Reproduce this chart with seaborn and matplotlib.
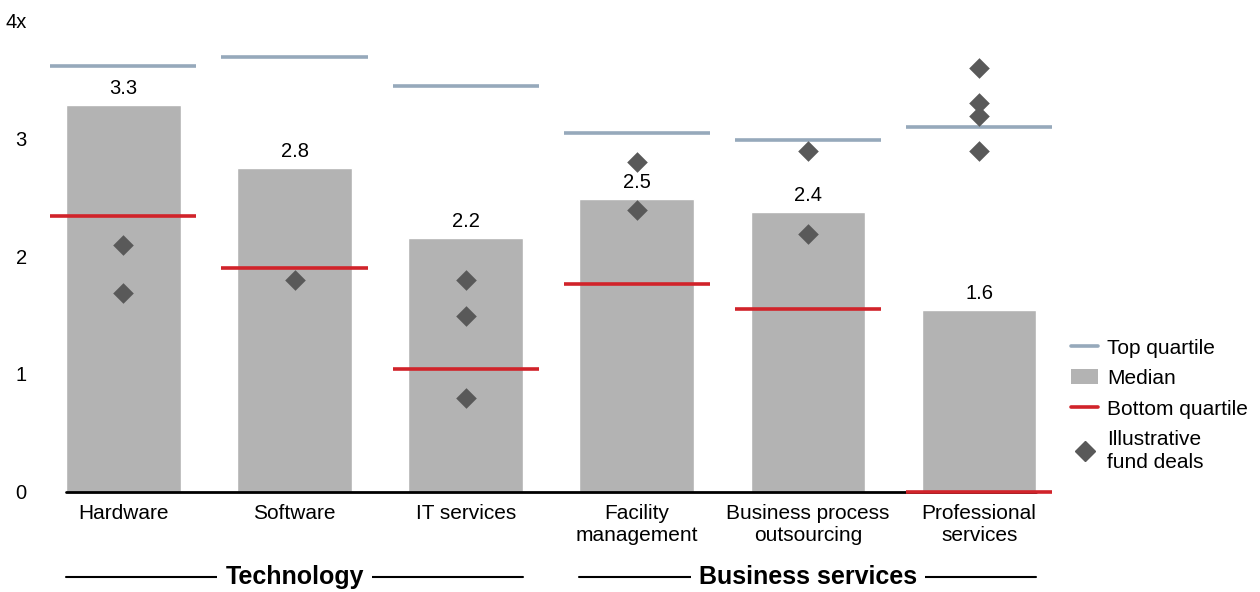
import matplotlib
matplotlib.use("Agg")
import matplotlib.pyplot as plt
import matplotlib.transforms as mtransforms
from matplotlib.lines import Line2D
from matplotlib.patches import Patch
import pandas as pd
import seaborn as sns

categories = ["Hardware", "Software", "IT services", "Facility\nmanagement",
              "Business process\noutsourcing", "Professional\nservices"]
median = [3.28, 2.75, 2.15, 2.48, 2.37, 1.54]
median_labels = ["3.3", "2.8", "2.2", "2.5", "2.4", "1.6"]
top_quartile = [3.61, 3.69, 3.44, 3.04, 2.98, 3.09]
bottom_quartile = [2.34, 1.90, 1.04, 1.76, 1.55, 0.0]
deal_category = ["Hardware", "Hardware", "Software",
                 "IT services", "IT services", "IT services",
                 "Facility\nmanagement", "Facility\nmanagement",
                 "Business process\noutsourcing", "Business process\noutsourcing",
                 "Professional\nservices", "Professional\nservices",
                 "Professional\nservices", "Professional\nservices"]
deal_value = [2.09, 1.69, 1.80, 1.80, 1.49, 0.80, 2.80, 2.39, 2.89, 2.19,
              3.59, 3.30, 3.19, 2.89]
groups = ["Technology", "Business services"]
group_span = [(0, 2), (3, 5)]

BAR = "#b3b3b3"
TOP = "#96a9bb"
RED = "#d1232a"
DIAMOND = "#595959"

sns.set_style("white")
plt.rcParams["font.family"] = ["Liberation Sans", "DejaVu Sans"]
plt.rcParams["text.color"] = "black"
plt.rcParams["xtick.color"] = "black"
plt.rcParams["ytick.color"] = "black"

fig = plt.figure(figsize=(12.6, 5.92), dpi=100)
ax = fig.add_axes([0.030, 0.169, 0.815, 0.797])

bars = pd.DataFrame({"category": categories, "median": median})
sns.barplot(data=bars, x="category", y="median", color=BAR, saturation=1,
            width=0.67, ax=ax, zorder=1)

deals = pd.DataFrame({"category": deal_category, "value": deal_value})
sns.stripplot(data=deals, x="category", y="value", order=categories,
              jitter=False, marker="D", size=10.5, color=DIAMOND,
              linewidth=0, ax=ax, zorder=4)

xs = range(len(categories))
half = 0.427
ax.hlines(top_quartile, [x - half for x in xs], [x + half for x in xs],
          color=TOP, lw=2.6, zorder=3, clip_on=False)
ax.hlines(bottom_quartile, [x - half for x in xs], [x + half for x in xs],
          color=RED, lw=2.6, zorder=5, clip_on=False)

for x, v, lab in zip(xs, median, median_labels):
    ax.annotate(lab, (x, v), xytext=(0, 5), textcoords="offset points",
                ha="center", va="bottom", fontsize=14.5, zorder=6)

# baseline
ax.plot([-0.335, 5.335], [0, 0], color="black", lw=2, zorder=2, clip_on=False)

ax.set_xlim(-0.5, 5.5)
ax.set_ylim(0, 4)
ax.set_yticks([0, 1, 2, 3, 4])
ax.set_yticklabels(["0", "1", "2", "3", "4x"], fontsize=14.5)
ax.tick_params(axis="y", length=0, pad=8)
ax.tick_params(axis="x", length=0, pad=9, labelsize=15)
for t in ax.get_xticklabels():
    t.set_linespacing(1.15)
ax.set_xlabel("")
ax.set_ylabel("")
sns.despine(ax=ax, left=True, bottom=True)

# group labels
trans = mtransforms.blended_transform_factory(ax.transData, fig.transFigure)
gy = 1 - 577 / 592
for name, (a, b) in zip(groups, group_span):
    ax.plot([a - 0.335, b + 0.335], [gy, gy], color="black", lw=1.5,
            transform=trans, clip_on=False)
    ax.text((a + b) / 2, gy, name, transform=trans, ha="center", va="center",
            fontsize=18, fontweight="bold",
            bbox=dict(facecolor="white", edgecolor="none", pad=6))

handles = [Line2D([], [], color=TOP, lw=2.6),
           Patch(facecolor=BAR, edgecolor="none"),
           Line2D([], [], color=RED, lw=2.6),
           Line2D([], [], marker="D", color=DIAMOND, lw=0, markersize=10)]
labels = ["Top quartile", "Median", "Bottom quartile", "Illustrative\nfund deals"]
leg = fig.legend(handles, labels, loc="upper left", bbox_to_anchor=(0.850, 0.428),
                 frameon=False, fontsize=15, handlelength=1.3, handletextpad=0.45,
                 labelspacing=0.55, borderaxespad=0, borderpad=0)
for t in leg.get_texts():
    t.set_linespacing(1.25)

fig.savefig("out.png", dpi=100)
